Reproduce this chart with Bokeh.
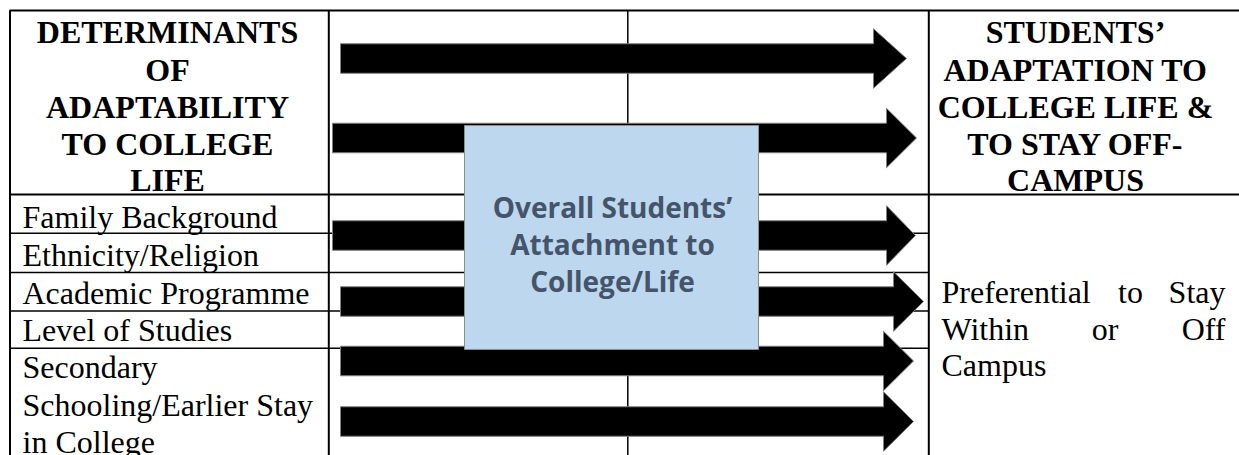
from bokeh.plotting import figure
from bokeh.models import Range1d
from bokeh.embed import file_html
from bokeh.resources import INLINE
from bokeh.core.properties import value

# ---- content ----
left_header = ["DETERMINANTS", "OF", "ADAPTABILITY", "TO COLLEGE", "LIFE"]
right_header = ["STUDENTS\u2019", "ADAPTATION TO", "COLLEGE LIFE &", "TO STAY OFF-", "CAMPUS"]
determinants = ["Family Background", "Ethnicity/Religion", "Academic Programme",
                "Level of Studies", "Secondary", "Schooling/Earlier Stay", "in College"]
box_lines = ["Overall Students\u2019", "Attachment to", "College/Life"]
outcome_first = ["Preferential", "Within", "Campus"]
outcome_mid = ["to", "or"]
outcome_last = ["Stay", "Off"]

# ---- layout (page pixel coordinates) ----
header_baselines = [31, 69, 106, 143, 179]
det_baselines = [216, 254, 292.5, 329, 366, 404, 441]
box_baselines = [206, 243.5, 280.5]
out_baselines = [291, 328, 364]
out_mid_x = [1130, 1104.5]

arrow_cy = [58, 137.5, 235, 301, 360.5, 421]
arrow_x0 = [340, 332, 332, 340, 340, 340]
arrow_back = [873, 886, 886, 893, 883, 883]
arrow_tip = [906, 916, 915, 923, 913, 913]
body_half = 14.75
head_half = 29.75

col_x = [9.5, 328.3, 627.3, 928.3]
row_y = [232.7, 272, 310.5, 347.7]
top_y = 10
header_y = 194

p = figure(width=1239, height=455, output_backend="svg", toolbar_location=None,
           x_range=Range1d(0, 1239), y_range=Range1d(455, 0),
           min_border=0, min_border_left=0, min_border_right=0,
           min_border_top=0, min_border_bottom=0)
p.xaxis.visible = False
p.yaxis.visible = False
p.xgrid.visible = False
p.ygrid.visible = False
p.outline_line_color = None
p.background_fill_color = "white"
p.border_fill_color = "white"

# table lines
p.segment(x0=[9, 9], y0=[top_y, header_y], x1=[1245, 1245], y1=[top_y, header_y],
          line_color="black", line_width=2)
p.segment(x0=[9] * len(row_y), y0=row_y, x1=[col_x[3]] * len(row_y), y1=row_y,
          line_color="black", line_width=1.5)
p.segment(x0=col_x, y0=[top_y] * 4, x1=col_x, y1=[470] * 4,
          line_color="black", line_width=[2, 2, 1.5, 2])

# arrows
xs, ys = [], []
for cy, x0, xb, xt in zip(arrow_cy, arrow_x0, arrow_back, arrow_tip):
    xs.append([x0, xb, xb, xt, xb, xb, x0])
    ys.append([cy - body_half, cy - body_half, cy - head_half, cy,
               cy + head_half, cy + body_half, cy + body_half])
p.patches(xs, ys, fill_color="black", line_color="#7f7f7f", line_width=1)

# central box
p.quad(left=[464], right=[758], top=[125], bottom=[349],
       fill_color="#BDD7EE", line_color="#8c8c8c", line_width=1)
p.text(x=[612] * 3, y=box_baselines, text=box_lines,
       text_font=value("Open Sans"), text_font_style="bold",
       text_font_size="28px", text_color="#44546A",
       text_align="center", text_baseline="alphabetic")

# headers
p.text(x=[167] * 5, y=header_baselines, text=left_header,
       text_font=value("Liberation Serif"), text_font_style="bold",
       text_font_size="32px", text_color="black",
       text_align="center", text_baseline="alphabetic")
p.text(x=[1075] * 5, y=header_baselines, text=right_header,
       text_font=value("Liberation Serif"), text_font_style="bold",
       text_font_size="32px", text_color="black",
       text_align="center", text_baseline="alphabetic")

# determinants
p.text(x=[22] * len(determinants), y=det_baselines, text=determinants,
       text_font=value("Liberation Serif"), text_font_size="32px",
       text_color="black", text_align="left", text_baseline="alphabetic")

# outcome (justified)
p.text(x=[941] * 3, y=out_baselines, text=outcome_first,
       text_font=value("Liberation Serif"), text_font_size="32px",
       text_color="black", text_align="left", text_baseline="alphabetic")
p.text(x=out_mid_x, y=out_baselines[:2], text=outcome_mid,
       text_font=value("Liberation Serif"), text_font_size="32px",
       text_color="black", text_align="center", text_baseline="alphabetic")
p.text(x=[1225] * 2, y=out_baselines[:2], text=outcome_last,
       text_font=value("Liberation Serif"), text_font_size="32px",
       text_color="black", text_align="right", text_baseline="alphabetic")

open("out.html", "w").write(file_html(p, INLINE))
